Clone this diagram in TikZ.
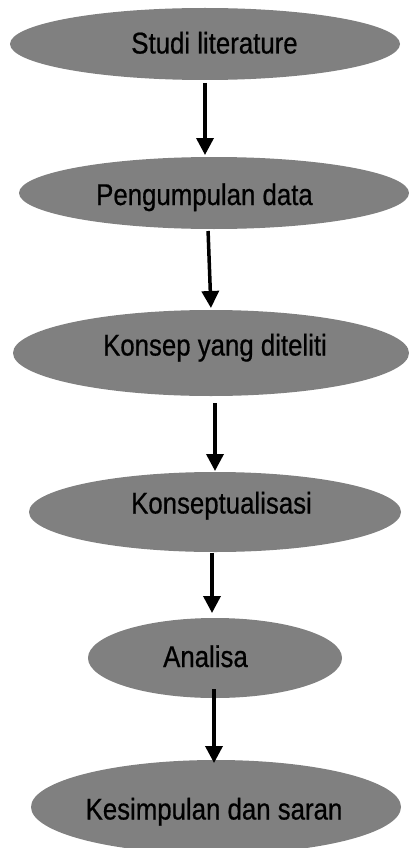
\documentclass[tikz,border=0pt]{standalone}
\usepackage{fontspec}
\setmainfont[FakeStretch=0.86, FakeBold=0.6]{Liberation Sans}
\usepackage{tikz}
\usetikzlibrary{shapes.geometric, arrows.meta}

\definecolor{ovalgray}{RGB}{128,128,128}

\tikzset{
    oval/.style={ellipse, fill=ovalgray, inner sep=0pt, outer sep=0pt},
    lbl/.style={inner sep=0pt, font=\fontsize{30pt}{36pt}\selectfont,
        text height=22pt, text depth=0pt},
    flow/.style={-{Triangle[width=17pt,length=17pt]}, line width=3.5pt}
}

\begin{document}
\begin{tikzpicture}[x=1pt, y=-1pt]
\useasboundingbox (0,0) rectangle (409,848);
% steps of the research
\node[oval, minimum width=390pt, minimum height=72pt,
    label={[lbl, xshift=9.5pt, yshift=1.5pt]center:Studi literature}] (studi) at (205,44) {};
\node[oval, minimum width=390pt, minimum height=72pt,
    label={[lbl, xshift=-9.5pt, yshift=-1pt]center:Pengumpulan data}] (kumpul) at (214,193) {};
\node[oval, minimum width=396pt, minimum height=86pt,
    label={[lbl, xshift=4pt, yshift=8.5pt]center:Konsep yang diteliti}] (konsep) at (211,353) {};
\node[oval, minimum width=372pt, minimum height=80pt,
    label={[lbl, xshift=6.5pt, yshift=9.5pt]center:Konseptualisasi}] (konseptual) at (215,512) {};
\node[oval, minimum width=254pt, minimum height=80pt,
    label={[lbl, xshift=-9.5pt, yshift=2pt]center:Analisa}] (analisa) at (215,658) {};
\node[oval, minimum width=370pt, minimum height=94pt,
    label={[lbl, xshift=-2pt, yshift=-1.5pt]center:Kesimpulan dan saran}] (simpul) at (216,807) {};
% arrows
\draw[flow, shorten <=3pt, shorten >=2pt] (studi.south) -- (kumpul.north -| studi.south);
\draw[flow, shorten <=2pt, shorten >=2pt] ([xshift=-6pt]kumpul.south) -- (konsep.north);
\draw[flow, shorten <=7pt, shorten >=1pt] ([xshift=4pt]konsep.south) -- (konseptual.north);
\draw[flow, shorten <=1pt, shorten >=5pt] ([xshift=-3pt]konseptual.south) -- ([xshift=-3pt]analisa.north);
\draw[flow, shorten <=-9pt, shorten >=-3pt] ([xshift=-1pt]analisa.south) -- ([xshift=-2pt]simpul.north);
\end{tikzpicture}
\end{document}
